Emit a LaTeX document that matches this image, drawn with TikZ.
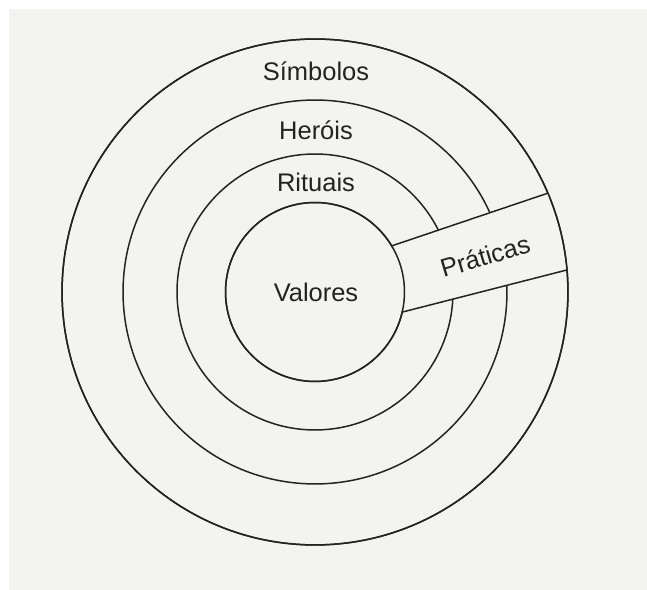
\documentclass[tikz,border=0pt]{standalone}
\usepackage{fontspec}
\setmainfont{Liberation Sans}
\usetikzlibrary{positioning}
\definecolor{paper}{RGB}{243,244,241}
\definecolor{ink}{RGB}{35,35,35}

\begin{document}
\begin{tikzpicture}[
    x=0.02cm,y=-0.02cm,
    ring/.style={draw=ink,line width=0.85pt,circle,inner sep=0pt,outer sep=0pt},
    tag/.style={font=\fontsize{14.5}{17}\selectfont,text=ink,inner sep=1pt},
    edge/.style={draw=ink,line width=0.85pt}
  ]
    \useasboundingbox (0,0) rectangle (647,590);
    \fill[white] (0,0) rectangle (647,590);
    \fill[paper] (9,9) rectangle (647,590);
    % middle rings, cut by the band
    \node[ring,minimum size=7.68cm] (herois) at (315,292) {};
    \node[ring,minimum size=5.52cm] (rituais) at (315,292) {};
    % inner and outer rings
    \node[ring,minimum size=3.58cm] (valores) at (315,292) {};
    \node[ring,minimum size=10.12cm] (simbolos) at (315,292) {};
    \fill[paper] (valores.31.6) -- (simbolos.23.1) -- (simbolos.5) -- (valores.-13.1) -- cycle;
    \node[ring,minimum size=3.58cm] at (315,292) {};
    \node[ring,minimum size=10.12cm] at (315,292) {};
    \draw[edge] (valores.31.6) -- (simbolos.23.1);
    \draw[edge] (valores.-13.1) -- (simbolos.5);
    \node[tag] (tsimb) at (316,71) {Símbolos};
    \node[tag] (ther) at (316,130) {Heróis};
    \node[tag] (trit) at (316,182) {Rituais};
    \node[tag] (tval) at (316,292) {Valores};
    \node[tag,rotate=16.5] (tprat) at (485,256) {Práticas};
  \end{tikzpicture}
\end{document}
